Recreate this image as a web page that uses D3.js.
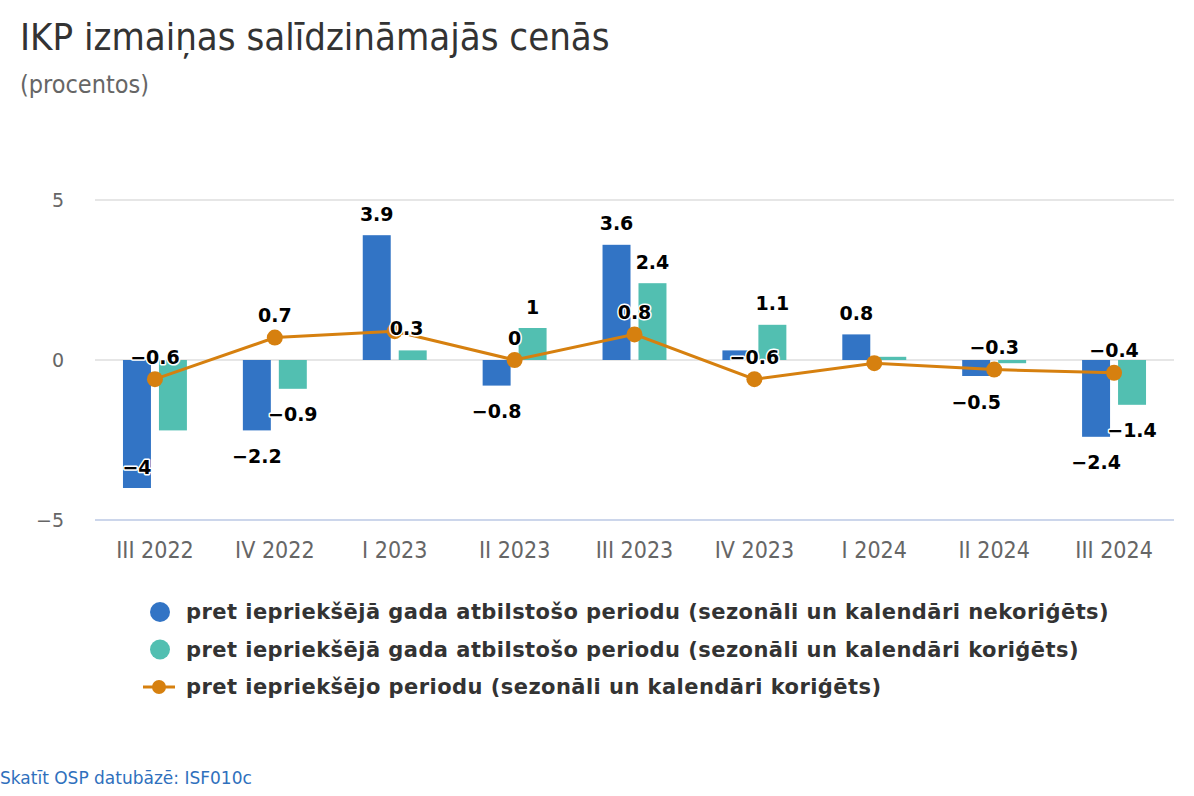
<!DOCTYPE html>
<html><head><meta charset="utf-8">
<script src="https://cdn.jsdelivr.net/npm/d3@7"></script>
<style>
body{margin:0;background:#fff;}
svg text{font-family:"DejaVu Sans",sans-serif;}
</style></head>
<body>
<svg id="c" width="1194" height="796"></svg>
<script>
const categories = ["III 2022","IV 2022","I 2023","II 2023","III 2023","IV 2023","I 2024","II 2024","III 2024"];
const seriesNames = [
  "pret iepriekšējā gada atbilstošo periodu (sezonāli un kalendāri nekoriģēts)",
  "pret iepriekšējā gada atbilstošo periodu (sezonāli un kalendāri koriģēts)",
  "pret iepriekšējo periodu (sezonāli un kalendāri koriģēts)"
];
const unadjusted = [-4, -2.2, 3.9, -0.8, 3.6, 0.3, 0.8, -0.5, -2.4];
const adjusted   = [-2.2, -0.9, 0.3, 1, 2.4, 1.1, 0.1, -0.1, -1.4];
const prevPeriod = [-0.6, 0.7, 0.9, 0, 0.8, -0.6, -0.1, -0.3, -0.4];
const yTicks = [-5, 0, 5];
// which data labels are visible (others hidden by overlap in the original)
const showUnadj = [1,1,1,1,1,0,1,1,1];
const showAdj   = [0,1,1,1,1,1,0,0,1];
const showPrev  = [1,1,0,1,1,1,0,1,1];

const colors = ["#3274c5", "#52bfb1", "#d6800f"];

const svg = d3.select("#c");
const pLeft = 95, pRight = 1174, pTop = 200, pBottom = 520;

svg.append("text").attr("x",20).attr("y",50).attr("font-size",38)
  .attr("fill","#333").style("font-family","'DejaVu Sans Condensed','DejaVu Sans'")
  .text("IKP izmaiņas salīdzināmajās cenās");
svg.append("text").attr("x",20).attr("y",93).attr("font-size",25)
  .attr("fill","#666").style("font-family","'DejaVu Sans Condensed','DejaVu Sans'")
  .text("(procentos)");

const x = d3.scaleBand().domain(categories).range([pLeft, pRight]);
const y = d3.scaleLinear().domain([-5, 5]).range([pBottom, pTop]);
const bwid = x.bandwidth();
const xs = d3.scaleBand().domain([0,1]).range([bwid*28/120, bwid*92/120]).paddingInner(8/36);

// grid
const g = svg.append("g");
g.selectAll("line.grid").data(yTicks).join("line")
  .attr("x1", pLeft).attr("x2", pRight)
  .attr("y1", d => y(d)).attr("y2", d => y(d))
  .attr("stroke", d => d === -5 ? "#ccd6eb" : "#e6e6e6").attr("stroke-width", 2);
g.selectAll("text.yt").data(yTicks).join("text")
  .attr("x", 64).attr("y", d => y(d)).attr("dy","0.35em")
  .attr("text-anchor","end").attr("font-size",19).attr("fill","#666")
  .text(d => d < 0 ? "−" + Math.abs(d) : d);

// x axis labels
const xAxis = d3.axisBottom(x).tickSize(0).tickPadding(0);
const xa = svg.append("g").attr("transform", `translate(0,${pBottom})`).call(xAxis);
xa.select(".domain").remove();
xa.selectAll("text").attr("y", 30).attr("dy","0.35em")
  .attr("font-size", 23).attr("fill","#666")
  .style("font-family","'DejaVu Sans Condensed','DejaVu Sans'");

// bars
const barsData = [unadjusted, adjusted];
barsData.forEach((vals, si) => {
  svg.append("g").selectAll("rect").data(vals).join("rect")
    .attr("x", (d,i) => x(categories[i]) + xs(si))
    .attr("width", xs.bandwidth())
    .attr("y", d => y(Math.max(0,d)))
    .attr("height", d => Math.abs(y(d) - y(0)))
    .attr("fill", colors[si]);
});

// line
const cx = i => x(categories[i]) + x.bandwidth()/2;
const line = d3.line().x((d,i) => cx(i)).y(d => y(d));
svg.append("path").datum(prevPeriod).attr("d", line)
  .attr("fill","none").attr("stroke", colors[2]).attr("stroke-width", 3);
svg.append("g").selectAll("circle").data(prevPeriod).join("circle")
  .attr("cx",(d,i)=>cx(i)).attr("cy", d=>y(d)).attr("r",8).attr("fill",colors[2]);

// data labels
const fmt = v => (v < 0 ? "−" : "") + Math.abs(v);
function label(xp, yp, v){
  svg.append("text").attr("x", xp).attr("y", yp).attr("dy","0.35em")
    .attr("text-anchor","middle").attr("font-size",19).attr("font-weight","bold")
    .attr("fill","#000").attr("stroke","#fff").attr("stroke-width",3)
    .attr("paint-order","stroke").attr("stroke-linejoin","round")
    .text(fmt(v));
}
barsData.forEach((vals, si) => {
  const show = si === 0 ? showUnadj : showAdj;
  vals.forEach((v,i) => {
    if(!show[i]) return;
    const bx = x(categories[i]) + xs(si) + xs.bandwidth()/2;
    let ly = v >= 0 ? y(v) - 21 : y(v) + 26;
    let lx = bx;
    if(si === 0 && i === 0) ly = y(v) - 21;      // label drawn inside bar end
    if(si === 1 && i === 2) { ly = y(v) - 22; lx = bx - 6; }
    label(lx, ly, v);
  });
});
prevPeriod.forEach((v,i) => {
  if(!showPrev[i]) return;
  label(cx(i), y(v) - 22, v);
});

// legend
const lg = svg.append("g");
const ly0 = 612, lstep = 37.5;
seriesNames.forEach((name, i) => {
  const yy = ly0 + i*lstep;
  if(i < 2){
    lg.append("circle").attr("cx",160).attr("cy",yy).attr("r",10).attr("fill",colors[i]);
  } else {
    lg.append("line").attr("x1",143).attr("x2",175).attr("y1",yy).attr("y2",yy)
      .attr("stroke",colors[2]).attr("stroke-width",3);
    lg.append("circle").attr("cx",159).attr("cy",yy).attr("r",7).attr("fill",colors[2]);
  }
  lg.append("text").attr("x",186).attr("y",yy).attr("dy","0.35em")
    .attr("font-size",21).attr("font-weight","bold").attr("fill","#333")
    .attr("letter-spacing",0.45).text(name);
});

svg.append("text").attr("x",0).attr("y",778).attr("dy","0.35em")
  .attr("font-size",17).attr("fill","#2f70bd").text("Skatīt OSP datubāzē: ISF010c");
</script>
</body></html>
